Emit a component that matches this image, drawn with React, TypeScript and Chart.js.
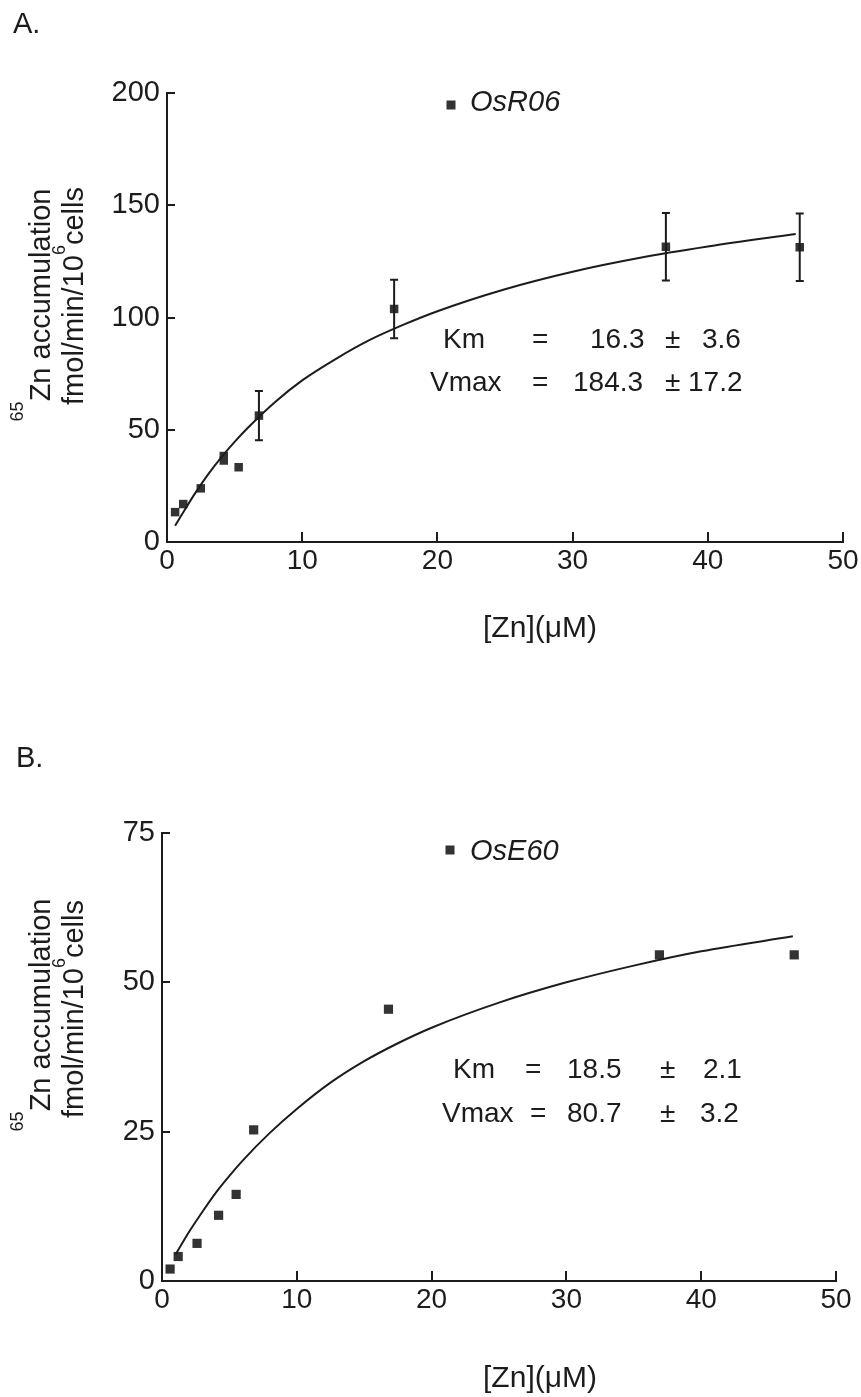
import React, { useEffect, useRef } from 'react';
import { Chart, registerables } from 'chart.js';

Chart.register(...registerables);

// ---------- Panel A (OsR06) ----------
const zincA = [0.6, 1.2, 2.5, 4.2, 4.2, 5.3, 6.8, 16.8, 36.9, 46.8];
const uptakeA = [13.3, 16.9, 23.9, 38.3, 36.3, 33.3, 56.3, 103.8, 131.5, 131.3];
const errorA = [0, 0, 0, 0, 0, 0, 11, 13, 15, 15];
const fitZincA = [0.6, 1, 2, 3, 4, 5, 6, 8, 10, 12.5, 15, 17.5, 20, 25, 30, 35, 40, 46.5];
const fitUptakeA = [7.2, 11.2, 21, 29.8, 37.6, 44.6, 51, 62.4, 72, 81.6, 90, 96.8, 102.8, 112.6, 120.4, 126.6, 131.6, 137.2];
const yTicksA = [0, 50, 100, 150, 200];

// ---------- Panel B (OsE60) ----------
const zincB = [0.6, 1.2, 2.6, 4.2, 5.5, 6.8, 16.8, 36.9, 46.9];
const uptakeB = [2.0, 4.1, 6.3, 11.0, 14.5, 25.3, 45.5, 54.6, 54.6];
const errorB = [0, 0, 0, 0, 0, 0, 0, 0, 0];
const fitZincB = [1, 2, 3, 4, 5, 6, 8, 10, 12.5, 15, 17.5, 20, 25, 30, 35, 40, 46.8];
const fitUptakeB = [4.4, 8.2, 11.6, 14.8, 17.6, 20.2, 24.8, 28.8, 33.2, 36.8, 39.8, 42.4, 46.6, 50.0, 52.8, 55.2, 57.7];
const yTicksB = [0, 25, 50, 75];

// ---------- shared ----------
const xTicks = [0, 10, 20, 30, 40, 50];
const xTitle = '[Zn](\u03BCM)';

const INK = '#1c1c1c';
const MARK = '#333333';
const FONT = "'Liberation Sans', Arial, Helvetica, sans-serif";

type Part = [string, number];

const inwardTicks = {
  id: 'inwardTicks',
  afterDraw(chart: any, _args: any, opts: any) {
    const { ctx, chartArea, scales } = chart;
    const x = scales.x;
    const y = scales.y;
    ctx.save();
    ctx.strokeStyle = INK;
    ctx.lineWidth = 2;
    x.ticks.forEach((t: any) => {
      const px = Math.round(x.getPixelForValue(t.value));
      ctx.beginPath();
      ctx.moveTo(px, chartArea.bottom);
      ctx.lineTo(px, chartArea.bottom - opts.xLen);
      ctx.stroke();
    });
    y.ticks.forEach((t: any) => {
      const py = Math.round(y.getPixelForValue(t.value));
      ctx.beginPath();
      ctx.moveTo(chartArea.left, py);
      ctx.lineTo(chartArea.left + opts.yLen, py);
      ctx.stroke();
    });
    ctx.restore();
  },
};

const errorBars = {
  id: 'errorBars',
  afterDatasetsDraw(chart: any, _args: any, opts: any) {
    const errs: number[] = opts.errors || [];
    const ds = chart.data.datasets[opts.datasetIndex];
    const meta = chart.getDatasetMeta(opts.datasetIndex);
    const ys = chart.scales.y;
    const { ctx } = chart;
    ctx.save();
    ctx.strokeStyle = INK;
    ctx.lineWidth = 2;
    meta.data.forEach((el: any, i: number) => {
      const e = errs[i];
      if (!e) return;
      const v = ds.data[i].y;
      const top = ys.getPixelForValue(v + e);
      const bot = ys.getPixelForValue(v - e);
      const px = el.x;
      ctx.beginPath();
      ctx.moveTo(px, top);
      ctx.lineTo(px, bot);
      ctx.moveTo(px - 4, top);
      ctx.lineTo(px + 4, top);
      ctx.moveTo(px - 4, bot);
      ctx.lineTo(px + 4, bot);
      ctx.stroke();
    });
    ctx.restore();
  },
};

function drawRichRotated(ctx: CanvasRenderingContext2D, baseX: number, centerY: number, parts: [string, number, number][]) {
  // parts: text, font size, raise
  ctx.save();
  let total = 0;
  const widths = parts.map(([t, s]) => {
    ctx.font = `${s}px ${FONT}`;
    const w = ctx.measureText(t).width;
    total += w;
    return w;
  });
  ctx.translate(baseX, centerY);
  ctx.rotate(-Math.PI / 2);
  let cx = -total / 2;
  ctx.textAlign = 'left';
  ctx.textBaseline = 'alphabetic';
  parts.forEach(([t, s, r], i) => {
    ctx.font = `${s}px ${FONT}`;
    ctx.fillText(t, cx, -r);
    cx += widths[i];
  });
  ctx.restore();
}

const annotations = {
  id: 'annotations',
  afterDraw(chart: any, _args: any, o: any) {
    const { ctx } = chart;
    ctx.save();
    ctx.fillStyle = INK;
    ctx.textAlign = 'left';
    ctx.textBaseline = 'alphabetic';
    // panel label
    ctx.font = `29px ${FONT}`;
    ctx.fillText(o.panel, o.panelX, o.panelY);
    // legend
    ctx.fillStyle = MARK;
    ctx.fillRect(o.legX - 4.5, o.legY - 4.5, 9, 9);
    ctx.fillStyle = INK;
    ctx.font = `italic 29px ${FONT}`;
    ctx.fillText(o.legend, o.legTextX, o.legTextY);
    // kinetic constants
    ctx.font = `28px ${FONT}`;
    o.constants.forEach((line: { y: number; parts: Part[] }) => {
      line.parts.forEach(([t, x]) => ctx.fillText(t, x, line.y));
    });
    // x title
    ctx.font = `30px ${FONT}`;
    ctx.textAlign = 'center';
    ctx.fillText(xTitle, o.xTitleX, o.xTitleY);
    // y title (rotated, two lines, with superscripts)
    drawRichRotated(ctx, o.yTitle1X, o.yTitle1C, [
      ['65', 18, 27],
      ['Zn accumulation', 29, 0],
    ]);
    drawRichRotated(ctx, o.yTitle2X, o.yTitle2C, [
      ['fmol/min/10', 29, 0],
      ['6', 18, 18],
      ['cells', 29, 0],
    ]);
    ctx.restore();
  },
};

type PanelCfg = {
  height: number;
  area: { left: number; right: number; top: number; bottom: number };
  zinc: number[];
  uptake: number[];
  errors: number[];
  fitZinc: number[];
  fitUptake: number[];
  yTicks: number[];
  yMax: number;
  pointRadius: number;
  annot: any;
};

function Panel({ cfg, top }: { cfg: PanelCfg; top: number }) {
  const ref = useRef<HTMLCanvasElement | null>(null);
  useEffect(() => {
    if (!ref.current) return;
    const { area } = cfg;
    const tickFont = { family: FONT, size: 28 };
    const chart = new Chart(ref.current, {
      type: 'scatter',
      data: {
        datasets: [
          {
            type: 'line',
            data: cfg.fitZinc.map((x, i) => ({ x, y: cfg.fitUptake[i] })),
            borderColor: INK,
            borderWidth: 2,
            pointRadius: 0,
            cubicInterpolationMode: 'monotone',
            fill: false,
          } as any,
          {
            type: 'scatter',
            data: cfg.zinc.map((x, i) => ({ x, y: cfg.uptake[i] })),
            pointStyle: 'rect',
            pointRadius: cfg.pointRadius,
            backgroundColor: MARK,
            borderColor: MARK,
            borderWidth: 0,
          } as any,
        ],
      },
      options: {
        animation: false,
        responsive: false,
        events: [],
        layout: { padding: { left: 0, top: area.top, right: 861 - area.right, bottom: 0 } },
        plugins: {
          legend: { display: false },
          tooltip: { enabled: false },
          inwardTicks: { xLen: 10, yLen: 8 },
          errorBars: { errors: cfg.errors, datasetIndex: 1 },
          annotations: cfg.annot,
        } as any,
        scales: {
          x: {
            type: 'linear',
            min: xTicks[0],
            max: xTicks[xTicks.length - 1],
            afterFit: (s: any) => {
              s.height = cfg.height - area.bottom;
            },
            afterBuildTicks: (s: any) => {
              s.ticks = xTicks.map((v) => ({ value: v }));
            },
            grid: { display: false, drawTicks: false },
            border: { display: true, color: INK, width: 2 },
            ticks: { color: INK, font: tickFont, padding: 2, maxRotation: 0, callback: (v: any) => String(v) },
          },
          y: {
            type: 'linear',
            min: 0,
            max: cfg.yMax,
            afterFit: (s: any) => {
              s.width = area.left;
            },
            afterBuildTicks: (s: any) => {
              s.ticks = cfg.yTicks.map((v) => ({ value: v }));
            },
            grid: { display: false, drawTicks: false },
            border: { display: true, color: INK, width: 2 },
            ticks: { color: INK, font: { family: FONT, size: 29 }, padding: 7, callback: (v: any) => String(v) },
          },
        },
      } as any,
      plugins: [inwardTicks, errorBars, annotations],
    });
    return () => chart.destroy();
  }, [cfg]);
  return (
    <canvas
      ref={ref}
      width={861}
      height={cfg.height}
      style={{ position: 'absolute', left: 0, top, width: 861, height: cfg.height }}
    />
  );
}

const panelA: PanelCfg = {
  height: 690,
  area: { left: 167, right: 843, top: 93, bottom: 542 },
  zinc: zincA,
  uptake: uptakeA,
  errors: errorA,
  fitZinc: fitZincA,
  fitUptake: fitUptakeA,
  yTicks: yTicksA,
  yMax: 200,
  pointRadius: 6,
  annot: {
    panel: 'A.',
    panelX: 13,
    panelY: 33,
    legend: 'OsR06',
    legX: 451,
    legY: 105,
    legTextX: 470,
    legTextY: 111,
    constants: [
      { y: 348, parts: [['Km', 443], ['=', 532], ['16.3', 590], ['\u00B1', 665], ['3.6', 702]] },
      { y: 391, parts: [['Vmax', 430], ['=', 532], ['184.3', 573], ['\u00B1', 665], ['17.2', 688]] },
    ],
    xTitleX: 540,
    xTitleY: 637,
    yTitle1X: 50,
    yTitle1C: 305,
    yTitle2X: 83,
    yTitle2C: 296,
  },
};

const panelB: PanelCfg = {
  height: 707,
  area: { left: 162, right: 836, top: 143, bottom: 591 },
  zinc: zincB,
  uptake: uptakeB,
  errors: errorB,
  fitZinc: fitZincB,
  fitUptake: fitUptakeB,
  yTicks: yTicksB,
  yMax: 75,
  pointRadius: 6.5,
  annot: {
    panel: 'B.',
    panelX: 16,
    panelY: 77,
    legend: 'OsE60',
    legX: 450,
    legY: 160,
    legTextX: 470,
    legTextY: 170,
    constants: [
      { y: 388, parts: [['Km', 453], ['=', 525], ['18.5', 567], ['\u00B1', 660], ['2.1', 703]] },
      { y: 432, parts: [['Vmax', 442], ['=', 530], ['80.7', 567], ['\u00B1', 660], ['3.2', 700]] },
    ],
    xTitleX: 540,
    xTitleY: 697,
    yTitle1X: 50,
    yTitle1C: 325,
    yTitle2X: 83,
    yTitle2C: 319,
  },
};

export default function App() {
  return (
    <div style={{ position: 'absolute', left: 0, top: 0, width: 861, height: 1397, background: '#ffffff', overflow: 'hidden' }}>
      <Panel cfg={panelA} top={0} />
      <Panel cfg={panelB} top={690} />
    </div>
  );
}
